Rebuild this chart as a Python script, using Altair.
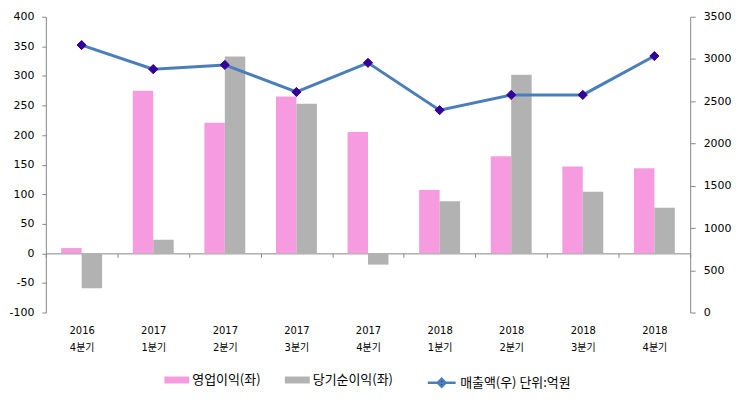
import altair as alt
import pandas as pd

cats = ["2016|4분기", "2017|1분기", "2017|2분기", "2017|3분기", "2017|4분기",
        "2018|1분기", "2018|2분기", "2018|3분기", "2018|4분기"]
op_profit = [9, 275, 221, 265, 205, 107, 164, 147, 144]
net_profit = [-59, 23, 333, 253, -19, 88, 302, 104, 77]
sales = [3165, 2880, 2930, 2610, 2955, 2395, 2575, 2575, 3035]

bar_series = ["영업이익(좌)", "당기순이익(좌)"]
line_series = "매출액(우)  단위:억원"

PINK = "#F79BE0"
GRAY = "#B2B2B2"
BLUE = "#4A7EBB"
PURPLE = "#330099"
AXIS_GRAY = "#868686"
KFONT = "Noto Sans CJK KR"
MIXFONT = "'DejaVu Sans', 'Noto Sans CJK KR'"

rows = []
for c, a, b in zip(cats, op_profit, net_profit):
    rows.append({"cat": c, "series": bar_series[0], "value": a})
    rows.append({"cat": c, "series": bar_series[1], "value": b})
df_bars = pd.DataFrame(rows)
df_line = pd.DataFrame({"cat": cats, "sales": sales, "series": [line_series] * len(cats)})

x_enc = alt.X(
    "cat:N", sort=cats, title=None,
    scale=alt.Scale(paddingInner=0, paddingOuter=0),
    axis=alt.Axis(
        labelExpr="split(datum.label, '|')", labelAngle=0, tickBand="extent",
        offset=-59.4, tickSize=4, labelPadding=68, labelLineHeight=18,
        domainColor=AXIS_GRAY, tickColor=AXIS_GRAY, labelColor="#000000",
        labelFont=MIXFONT, labelFontSize=10, grid=False,
    ),
)

bars = alt.Chart(df_bars).mark_bar().encode(
    x=x_enc,
    xOffset=alt.XOffset("series:N", sort=bar_series,
                        scale=alt.Scale(paddingOuter=0.75, paddingInner=0)),
    y=alt.Y("value:Q", title=None,
            scale=alt.Scale(domain=[-100, 400], nice=False),
            axis=alt.Axis(values=list(range(-100, 401, 50)), grid=False,
                          labelExpr="toString(datum.value)",
                          domainColor=AXIS_GRAY, tickColor=AXIS_GRAY, tickSize=4,
                          labelPadding=8, labelFont="DejaVu Sans", labelFontSize=11,
                          labelColor="#000000")),
    color=alt.Color("series:N", sort=bar_series,
                    scale=alt.Scale(domain=bar_series, range=[PINK, GRAY]),
                    legend=alt.Legend(title=None, orient="none", direction="horizontal",
                                      legendX=119, legendY=352, padding=0,
                                      symbolType="M-1,-0.28H1V0.28H-1Z", symbolSize=625,
                                      symbolStrokeWidth=0, symbolOpacity=1,
                                      labelFont=KFONT, labelFontSize=13, labelColor="#000000",
                                      labelLimit=300, columnPadding=24, labelOffset=3)),
)

right_axis = alt.Axis(values=list(range(0, 3501, 500)), grid=False, orient="right",
                      format="d",
                      domainColor=AXIS_GRAY, tickColor=AXIS_GRAY, tickSize=5,
                      labelPadding=8, labelFont="DejaVu Sans", labelFontSize=11,
                      labelColor="#000000")

line = alt.Chart(df_line).mark_line(strokeWidth=3).encode(
    x=x_enc,
    y=alt.Y("sales:Q", title=None, scale=alt.Scale(domain=[0, 3500], nice=False), axis=right_axis),
    color=alt.Color("series:N",
                    scale=alt.Scale(domain=[line_series], range=[BLUE]),
                    legend=alt.Legend(title=None, orient="none", legendX=382, legendY=352,
                                      padding=0,
                                      symbolType="M-1,0H1M0,-0.28L0.28,0L0,0.28L-0.28,0Z",
                                      symbolSize=784, symbolStrokeWidth=2.5,
                                      symbolFillColor=PURPLE,
                                      labelFont=KFONT, labelFontSize=13, labelColor="#000000",
                                      labelLimit=300, labelOffset=3)),
)

points = alt.Chart(df_line).mark_point(shape="diamond", filled=True, size=85,
                                       fill=PURPLE, stroke=PURPLE, strokeWidth=1,
                                       opacity=1).encode(
    x=x_enc,
    y=alt.Y("sales:Q", title=None, scale=alt.Scale(domain=[0, 3500], nice=False), axis=right_axis),
)

right = alt.layer(line, points)

chart = alt.layer(bars, right).resolve_scale(
    y="independent", color="independent"
).properties(
    width=647, height=297,
    autosize=alt.AutoSizeParams(type="none"),
    padding={"left": 38, "top": 8, "right": 45, "bottom": 76},
    background="white",
).configure_view(stroke=None)

chart.save("out.html", embed_options={"renderer": "svg", "actions": False})
